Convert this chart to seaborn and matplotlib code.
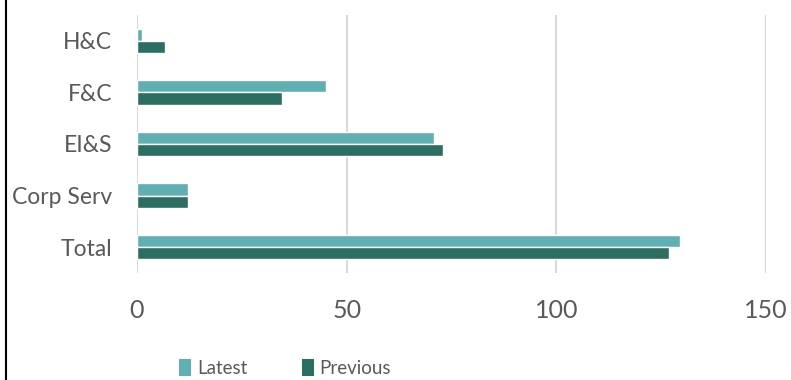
import matplotlib
matplotlib.use("Agg")
import matplotlib.pyplot as plt
import seaborn as sns
import pandas as pd
from matplotlib.patches import Patch
from matplotlib.lines import Line2D

categories = ["H&C", "F&C", "EI&S", "Corp Serv", "Total"]
latest = [1.1, 45.0, 70.8, 12.1, 129.6]
previous = [6.7, 34.5, 72.9, 12.1, 126.8]
series_names = ["Latest", "Previous"]
x_ticks = [0, 50, 100, 150]

colors = {"Latest": "#5fafb3", "Previous": "#2d6e63"}

df = pd.DataFrame({
    "category": categories * 2,
    "value": latest + previous,
    "series": ["Latest"] * len(categories) + ["Previous"] * len(categories),
})

sns.set_theme(style="white")
plt.rcParams["font.family"] = ["Lato", "DejaVu Sans"]

fig = plt.figure(figsize=(7.91, 3.80), dpi=100)
ax = fig.add_axes([137 / 791, 1 - 273 / 380, (766 - 137) / 791, (273 - 15) / 380])

sns.barplot(data=df, y="category", x="value", hue="series", orient="h",
            palette=colors, width=0.47, ax=ax, legend=False, saturation=1,
            order=categories, hue_order=series_names)

ax.set_xlim(0, 150)
ax.set_xticks(x_ticks)
ax.set_xticklabels([str(t) for t in x_ticks])
ax.set_ylim(4.5, -0.5)
ax.grid(axis="x", color="#d9d9d9", linewidth=1.5)
ax.set_axisbelow(True)
for s in ax.spines.values():
    s.set_visible(False)
ax.set_xlabel("")
ax.set_ylabel("")
ax.tick_params(axis="x", labelsize=18, colors="#595959", pad=19, length=0)
ax.tick_params(axis="y", labelsize=16.5, colors="#595959", pad=18, length=0)

handles = [Patch(facecolor=colors[n], edgecolor="none") for n in series_names]
leg = fig.legend(handles, series_names, loc="center", bbox_to_anchor=(285 / 791, 1 - 368 / 380),
                 ncol=2, frameon=False, fontsize=13.5, handlelength=0.65, handleheight=1.0,
                 handletextpad=0.3, columnspacing=2.9, labelcolor="#595959",
                 borderpad=0.0)

fig.add_artist(Line2D([6 / 791, 6 / 791], [0, 1], color="black", linewidth=1.5,
                      transform=fig.transFigure))

fig.savefig("out.png", dpi=100)
